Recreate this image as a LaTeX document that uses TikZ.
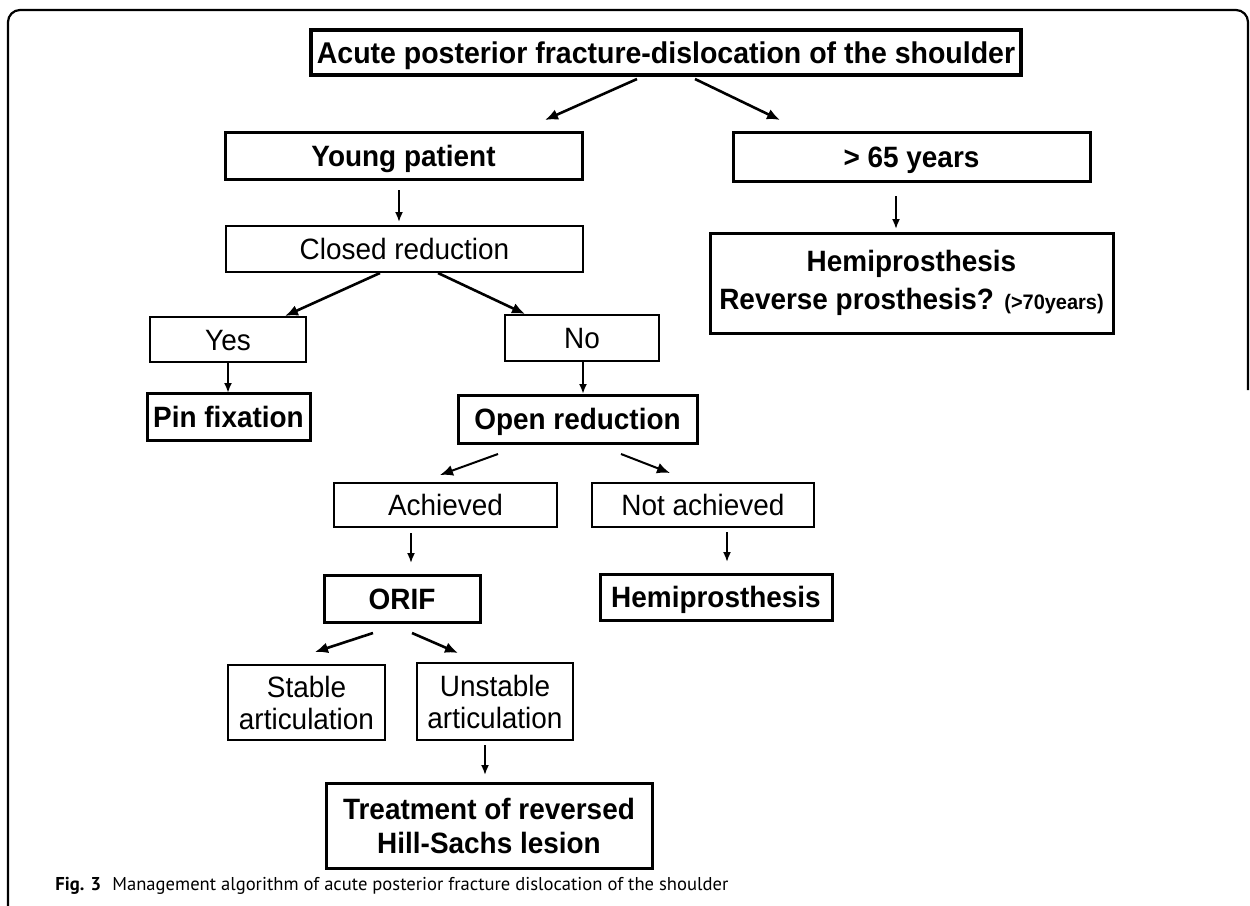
\documentclass[tikz,border=0pt]{standalone}
\usepackage{fontspec}
\setmainfont{Liberation Sans}
\newfontfamily\boxfont[FakeStretch=0.95]{Liberation Sans}
\newfontfamily\capfont{PT Sans}
\usetikzlibrary{arrows.meta}
\tikzset{
  plainbox/.style={draw, line width=1pt, inner sep=0pt, align=center,
    font=\boxfont\fontsize{14.7}{16}\selectfont},
  boldbox/.style={draw, line width=1.5pt, inner sep=0pt, align=center,
    font=\boxfont\bfseries\fontsize{14.7}{17}\selectfont},
  titlebox/.style={draw, line width=1.7pt, inner sep=0pt, align=center,
    font=\boxfont\bfseries\fontsize{15}{17}\selectfont},
  oneline/.style={text height=10.6pt, text depth=0pt},
  arr/.style={line width=1.3pt, -{Latex[length=6.5pt,width=5.5pt]}},
  varr/.style={line width=0.9pt, -{Latex[length=5pt,width=4pt]}},
  frameline/.style={line width=1.1pt, rounded corners=6pt},
}
\newcommand{\bx}[7]{%
  \node[#6, minimum width={(#4-#2)*0.5pt}, minimum height={(#5-#3)*0.5pt}]
    (#1) at ({(#2+#4)/2},{(#3+#5)/2}) {#7};}
\begin{document}
\begin{tikzpicture}[x=0.5pt, y=-0.5pt]
\useasboundingbox (0,0) rectangle (1250,906);
% outer frame
\draw[frameline] (8,906) -- (8,10) -- (1248,10) -- (1248,390);
% boxes
\bx{title}{311}{30}{1021}{75}{titlebox, oneline}{Acute posterior fracture-dislocation of the shoulder}
\bx{young}{225}{132}{582}{179}{boldbox, oneline}{Young patient}
\bx{old}{733}{132}{1090}{181}{boldbox, oneline}{> 65 years}
\bx{prosth}{710}{233}{1113}{333}{boldbox, font=\boxfont\bfseries\fontsize{14.7}{19}\selectfont}{Hemiprosthesis\\Reverse prosthesis? {\fontsize{10.5}{12}\selectfont(>70years)}}
\bx{closed}{226}{226}{583}{272}{plainbox, oneline}{Closed reduction}
\bx{yes}{150}{317}{306}{362}{plainbox, oneline}{Yes}
\bx{no}{505}{315}{659}{361}{plainbox, oneline}{No}
\bx{pin}{147}{393}{310}{440}{boldbox, oneline}{Pin fixation}
\bx{open}{458}{395}{697}{443}{boldbox, oneline}{Open reduction}
\bx{ach}{334}{483}{557}{527}{plainbox, oneline}{Achieved}
\bx{notach}{592}{483}{814}{527}{plainbox, oneline}{Not achieved}
\bx{orif}{324}{575}{480}{622}{boldbox, oneline}{ORIF}
\bx{hemi}{600}{574}{832}{620}{boldbox, oneline}{Hemiprosthesis}
\bx{stable}{228}{665}{385}{740}{plainbox}{Stable\\articulation}
\bx{unstable}{417}{663}{573}{740}{plainbox}{Unstable\\articulation}
\bx{treat}{326}{783}{652}{868}{boldbox}{Treatment of reversed\\Hill-Sachs lesion}
% arrow end points
\coordinate (a1s) at (637,79);  \coordinate (a1e) at (545,120);
\coordinate (a2s) at (695,79);  \coordinate (a2e) at (780,120);
\coordinate (a3s) at (399,190); \coordinate (a3e) at (399,222);
\coordinate (a4s) at (896,196); \coordinate (a4e) at (896,229);
\coordinate (a5s) at (380,273); \coordinate (a5e) at (285,316);
\coordinate (a6s) at (438,273); \coordinate (a6e) at (525,314);
\coordinate (a7s) at (228,363); \coordinate (a7e) at (228,393);
\coordinate (a8s) at (583,362); \coordinate (a8e) at (583,394);
\coordinate (a9s) at (498,454); \coordinate (a9e) at (440,475);
\coordinate (a10s) at (621,454); \coordinate (a10e) at (670,473);
\coordinate (a11s) at (411,533); \coordinate (a11e) at (411,563);
\coordinate (a12s) at (727,532); \coordinate (a12e) at (727,562);
\coordinate (a13s) at (373,633); \coordinate (a13e) at (315,652);
\coordinate (a14s) at (412,633); \coordinate (a14e) at (458,653);
\coordinate (a15s) at (485,745); \coordinate (a15e) at (485,775);
% arrows
\draw[arr] (a1s) -- (a1e);
\draw[arr] (a2s) -- (a2e);
\draw[varr] (a3s) -- (a3e);
\draw[varr] (a4s) -- (a4e);
\draw[arr] (a5s) -- (a5e);
\draw[arr] (a6s) -- (a6e);
\draw[varr, line width=1.2pt] (a7s) -- (a7e);
\draw[varr, line width=1.2pt] (a8s) -- (a8e);
\draw[arr, line width=1pt] (a9s) -- (a9e);
\draw[arr, line width=1pt] (a10s) -- (a10e);
\draw[varr] (a11s) -- (a11e);
\draw[varr] (a12s) -- (a12e);
\draw[arr] (a13s) -- (a13e);
\draw[arr] (a14s) -- (a14e);
\draw[varr] (a15s) -- (a15e);
% caption
\node[anchor=base west, inner sep=0pt, font=\capfont\fontsize{9.3}{11}\selectfont] (cap) at (55,890)
  {\textbf{Fig. 3}\hspace{0.6em}Management algorithm of acute posterior fracture dislocation of the shoulder};
\end{tikzpicture}
\end{document}
